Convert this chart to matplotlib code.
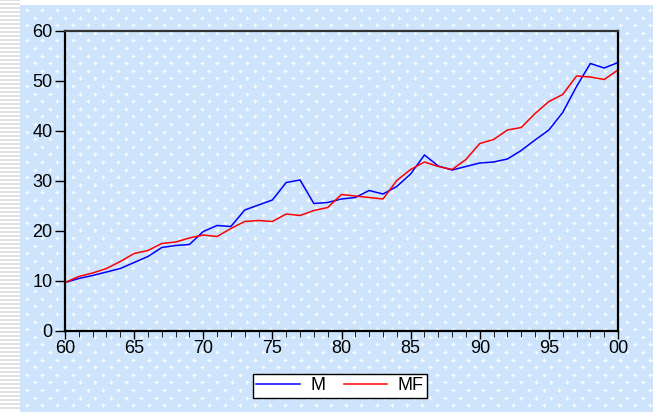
import matplotlib

matplotlib.use("Agg")
import matplotlib.pyplot as plt
import numpy as np
from matplotlib.patches import Rectangle

plt.rcParams["font.family"] = ["Liberation Sans", "DejaVu Sans"]

years = np.arange(1960, 2001)
m_vals = [9.6, 10.4, 11.0, 11.7, 12.4, 13.6, 14.8, 16.6, 17.0, 17.2,
          19.8, 21.0, 20.8, 24.1, 25.1, 26.1, 29.6, 30.1, 25.4, 25.6,
          26.3, 26.6, 28.0, 27.3, 28.8, 31.3, 35.1, 32.9, 32.1, 32.8,
          33.5, 33.7, 34.3, 36.0, 38.1, 40.1, 43.6, 48.8, 53.4, 52.5,
          53.6]
mf_vals = [9.6, 10.8, 11.5, 12.4, 13.8, 15.4, 16.0, 17.4, 17.7, 18.5,
           19.1, 18.8, 20.4, 21.8, 22.0, 21.8, 23.3, 23.0, 24.0, 24.6,
           27.2, 26.9, 26.6, 26.3, 30.0, 32.2, 33.7, 32.8, 32.2, 34.2,
           37.4, 38.2, 40.1, 40.6, 43.4, 45.8, 47.2, 50.9, 50.7, 50.2,
           52.1]
series_names = ["M", "MF"]
y_ticks = [0, 10, 20, 30, 40, 50, 60]
x_major = list(range(1960, 2001, 5))
x_labels = ["60", "65", "70", "75", "80", "85", "90", "95", "00"]

W, H = 653, 412
fig = plt.figure(figsize=(W / 100, H / 100), dpi=100)
fig.patch.set_facecolor("white")

# background panel in pixel coordinates
bg = fig.add_axes([0, 0, 1, 1], zorder=-1)
bg.set_xlim(0, W)
bg.set_ylim(H, 0)
bg.axis("off")
for yy in np.arange(0, H, 4):
    bg.plot([0, 20], [yy, yy], color="#dcdcdc", lw=1.2, solid_capstyle="butt")
bg.add_patch(Rectangle((20, 5), W - 20, H - 5, facecolor="#cde4fc", edgecolor="none"))
px, py = [], []
for i, yy in enumerate(np.arange(10, H, 7.6)):
    off = 0 if i % 2 == 0 else 7.6
    for xx in np.arange(27 + off, W, 15.2):
        px.append(xx)
        py.append(yy)
bg.scatter(px, py, marker="+", s=9, color="white", linewidths=0.9, alpha=0.9)

ax = fig.add_axes([65 / W, 1 - 330.5 / H, 553 / W, 300 / H])
ax.set_facecolor("none")
ax.plot(years, m_vals, color="#0000ff", lw=1.1, label=series_names[0])
ax.plot(years, mf_vals, color="#ff0000", lw=1.1, label=series_names[1])

ax.set_xlim(1960, 2000)
ax.set_ylim(0, 60)
ax.set_yticks(y_ticks)
ax.set_xticks(x_major)
ax.set_xticklabels(x_labels)
ax.set_xticks(years, minor=True)
ax.tick_params(axis="both", labelsize=13, width=1.0, color="black")
ax.tick_params(axis="y", length=7, direction="out", pad=2)
ax.tick_params(axis="x", which="major", length=6, direction="out", pad=1)
ax.tick_params(axis="x", which="minor", length=4, direction="out")
for side in ["left", "bottom", "right"]:
    ax.spines[side].set_linewidth(1.6)
    ax.spines[side].set_color("black")
ax.spines["top"].set_linewidth(1.6)
ax.spines["top"].set_color("#333333")

leg = fig.legend(loc="center", bbox_to_anchor=(340 / W, 1 - 386 / H), ncol=2,
                 fontsize=13, frameon=True, fancybox=False, handlelength=2.4,
                 columnspacing=1.0, borderpad=0.2, handletextpad=0.6,
                 borderaxespad=0.3)
leg.get_frame().set_edgecolor("black")
leg.get_frame().set_linewidth(1.0)
leg.get_frame().set_facecolor("white")
leg.get_frame().set_alpha(1)

fig.savefig("out.png", dpi=100)
